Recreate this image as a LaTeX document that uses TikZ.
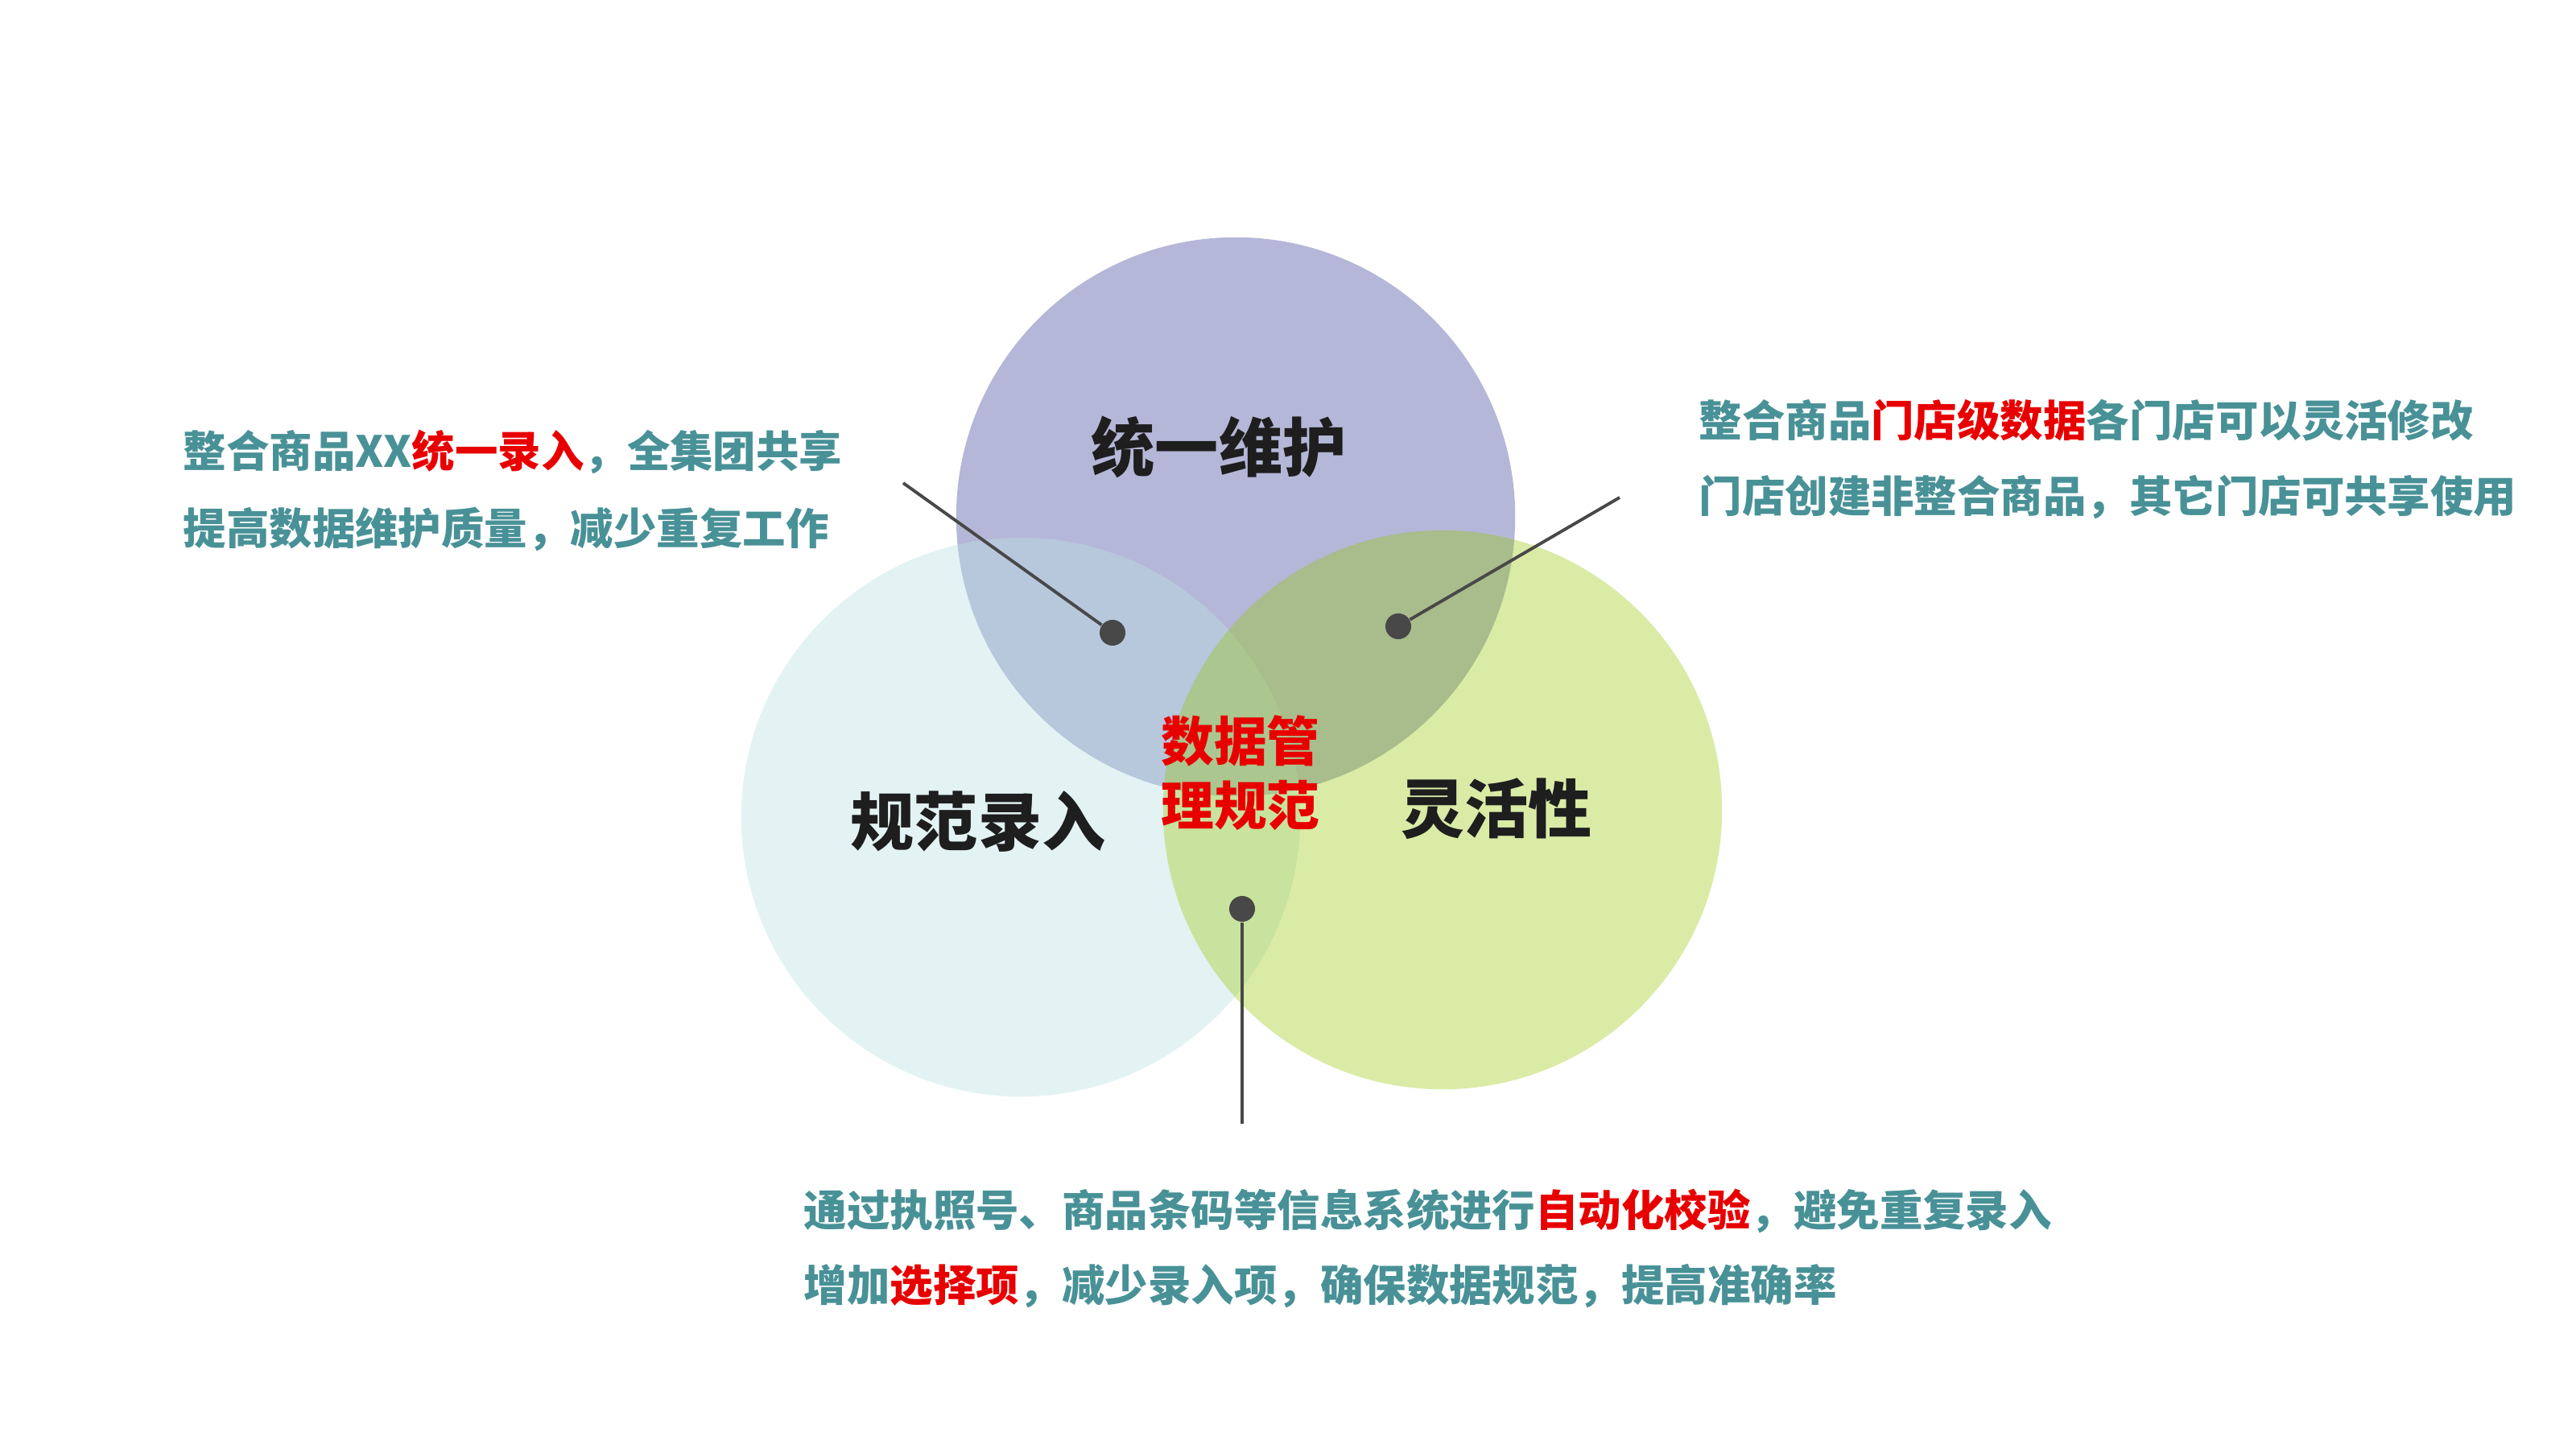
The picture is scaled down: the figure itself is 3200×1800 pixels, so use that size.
\documentclass[tikz,border=0pt]{standalone}
\usepackage{fontspec}
\setmainfont{Noto Sans CJK SC}
\usepackage{tikz}
\definecolor{topc}{RGB}{181, 183, 216}
\definecolor{leftc}{RGB}{187, 225, 228}
\definecolor{rightc}{RGB}{149, 198, 0}
\definecolor{note}{RGB}{72, 145, 151}
\definecolor{hot}{RGB}{232, 0, 0}
\definecolor{ink}{RGB}{72, 72, 72}
\definecolor{heavy}{RGB}{30, 30, 30}

\begin{document}
\begin{tikzpicture}[
   x=0.01cm, y=-0.01cm,
   ring/.style={circle, inner sep=0, minimum size=6.94cm},
   dot/.style={circle, fill=ink, inner sep=0, minimum size=0.32cm},
   title/.style={inner sep=0, text=heavy, font=\fontsize{22.5}{27}\selectfont\bfseries},
   core/.style={inner sep=0, text=hot, align=center,
                font=\fontsize{18.7}{22.8}\selectfont\bfseries},
   note/.style={anchor=west, inner sep=0, text=note,
                font=\fontsize{15.2}{18}\selectfont\bfseries}
  ]

  \useasboundingbox (0, 0) rectangle (3200, 1800);
  \fill[white] (0, 0) rectangle (3200, 1800);

  % circles
  \node (T) at (1535, 642) [ring, fill=topc] {};
  \node (L) at (1268, 1015) [ring, fill=leftc, fill opacity=0.4] {};
  \node (R) at (1792, 1006) [ring, fill=rightc, fill opacity=0.35] {};

  % pointers
  \coordinate (eL) at (1122, 600);
  \coordinate (eR) at (2012, 618);
  \coordinate (eB) at (1543, 1396);

  \node (dL) at (1382, 786) [dot] {};
  \node (dR) at (1737, 778) [dot] {};
  \node (dB) at (1543, 1129) [dot] {};

  \foreach \B/\E in {eL/dL, eR/dR, eB/dB} {
    \draw[color=ink, line width=1.1] (\B) -- (\E);
  }

  % labels
  \node (tT) at (1514, 555) [title] {统一维护};
  \node (tL) at (1215, 1021) [title] {规范录入};
  \node (tR) at (1859, 1005) [title] {灵活性};
  \node (tC) at (1541, 960) [core] {数据管\\理规范};

  % notes
  \node (nL1) at (227, 561) [note] {整合商品XX\textcolor{hot}{统一录入}，全集团共享};
  \node (nL2) at (227, 657) [note] {提高数据维护质量，减少重复工作};

  \node (nR1) at (2110, 522) [note] {整合商品\textcolor{hot}{门店级数据}各门店可以灵活修改};
  \node (nR2) at (2110, 618) [note] {门店创建非整合商品，其它门店可共享使用};

  \node (nB1) at (998, 1504) [note] {通过执照号、商品条码等信息系统进行\textcolor{hot}{自动化校验}，避免重复录入};
  \node (nB2) at (998, 1598) [note] {增加\textcolor{hot}{选择项}，减少录入项，确保数据规范，提高准确率};

\end{tikzpicture}
\end{document}
